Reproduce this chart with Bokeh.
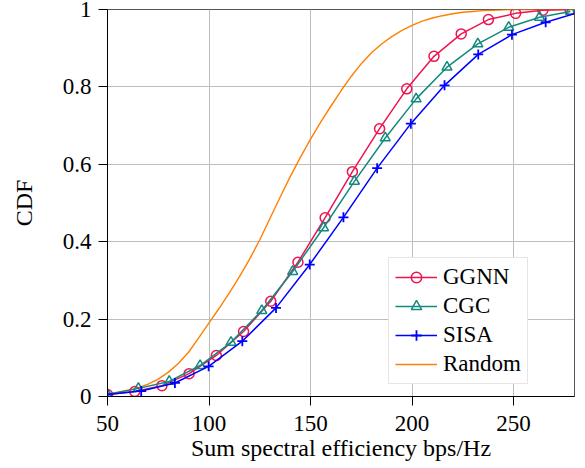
from bokeh.plotting import figure
from bokeh.models import Range1d, FixedTicker, CustomJSTickFormatter, Legend, LegendItem
from bokeh.embed import file_html
from bokeh.resources import INLINE

# ---- data ----
ggnn_x = [50, 63.4, 76.8, 90.2, 103.6, 117.0, 130.4, 143.8, 157.2, 170.6, 184.0, 197.4, 210.8, 224.2, 237.6, 251.0, 264.4, 277.8]
ggnn_y = [0.005, 0.013, 0.028, 0.059, 0.106, 0.168, 0.246, 0.347, 0.462, 0.581, 0.692, 0.795, 0.879, 0.937, 0.974, 0.990, 0.998, 1.0]

cgc_x = [50, 65.2, 80.4, 95.6, 110.8, 126.0, 141.2, 156.4, 171.6, 186.8, 202.0, 217.2, 232.4, 247.6, 262.8, 278.0]
cgc_y = [0.005, 0.021, 0.039, 0.080, 0.140, 0.222, 0.323, 0.436, 0.556, 0.668, 0.769, 0.851, 0.911, 0.954, 0.980, 0.995]

sisa_x = [50, 66.6, 83.2, 99.8, 116.4, 133.0, 149.6, 166.2, 182.8, 199.4, 216.0, 232.6, 249.2, 265.8, 282.4]
sisa_y = [0.005, 0.014, 0.035, 0.078, 0.143, 0.229, 0.341, 0.463, 0.590, 0.705, 0.804, 0.884, 0.935, 0.967, 0.993]

rand_x = [50, 55, 60, 65, 70, 75, 80, 85, 90, 95, 100, 105, 110, 115, 120, 125, 130, 135, 140, 145,
          150, 155, 160, 165, 170, 175, 180, 185, 190, 195, 200, 205, 210, 215, 220, 225, 230, 235,
          240, 245, 250, 260, 270, 280]
rand_y = [0.007, 0.011, 0.016, 0.022, 0.032, 0.045, 0.063, 0.086, 0.115, 0.152, 0.190, 0.228, 0.268, 0.310,
          0.355, 0.405, 0.460, 0.515, 0.568, 0.618, 0.665, 0.709, 0.750, 0.790, 0.827, 0.860, 0.888,
          0.911, 0.930, 0.946, 0.959, 0.970, 0.978, 0.984, 0.989, 0.993, 0.995, 0.997, 0.998, 0.999,
          1.0, 1.0, 1.0, 1.0]

x_ticks = [50, 100, 150, 200, 250]
y_ticks = [0, 0.2, 0.4, 0.6, 0.8, 1.0]

FONT = "Liberation Serif"
FS_TICK = "23px"
FS_LABEL = "24px"
FS_LEG = "23px"

C_GGNN = "#EE1450"
C_CGC = "#138A80"
C_SISA = "#0000FF"
C_RAND = "#FF8000"

p = figure(width=577, height=464, output_backend="svg", toolbar_location=None,
           x_range=Range1d(50, 280), y_range=Range1d(0, 1),
           min_border_left=107, min_border_right=3, min_border_top=9, min_border_bottom=68)
p.background_fill_color = "white"
p.border_fill_color = "white"
p.outline_line_color = "#555555"
p.outline_line_width = 1

# grid
for g in (p.xgrid, p.ygrid):
    g.grid_line_color = "#BDBDBD"
    g.grid_line_width = 1
p.xgrid.ticker = FixedTicker(ticks=x_ticks)
p.ygrid.ticker = FixedTicker(ticks=y_ticks)

# axes
p.xaxis.ticker = FixedTicker(ticks=x_ticks)
p.yaxis.ticker = FixedTicker(ticks=y_ticks)
p.yaxis.formatter = CustomJSTickFormatter(code="return tick.toFixed(1).replace(/\\.0$/, '')")
for ax in (p.xaxis, p.yaxis):
    ax.axis_line_color = "black"
    ax.axis_line_width = 1
    ax.major_tick_line_color = "black"
    ax.major_tick_out = 9
    ax.major_tick_in = 0
    ax.minor_tick_line_color = None
    ax.major_label_text_font = FONT
    ax.major_label_text_font_size = FS_TICK
    ax.major_label_text_color = "black"
    ax.axis_label_text_font = FONT
    ax.axis_label_text_font_size = FS_LABEL
    ax.axis_label_text_font_style = "normal"
    ax.axis_label_text_color = "black"
p.xaxis.major_label_standoff = 10
p.yaxis.major_label_standoff = 7
p.xaxis.axis_label = "Sum spectral efficiency bps/Hz"
p.yaxis.axis_label = "CDF"
p.xaxis.axis_label_standoff = 1
p.yaxis.axis_label_standoff = 23

# series
r_rand = p.line(rand_x, rand_y, line_color=C_RAND, line_width=1.4)

l_ggnn = p.line(ggnn_x, ggnn_y, line_color=C_GGNN, line_width=1.5)
m_ggnn = p.scatter(ggnn_x, ggnn_y, marker="circle", size=10, fill_color=None,
                   line_color=C_GGNN, line_width=1.5)

l_cgc = p.line(cgc_x, cgc_y, line_color=C_CGC, line_width=1.5)
m_cgc = p.scatter(cgc_x, cgc_y, marker="triangle", size=10, fill_color=None,
                  line_color=C_CGC, line_width=1.5)

l_sisa = p.line(sisa_x, sisa_y, line_color=C_SISA, line_width=1.5)
m_sisa = p.scatter(sisa_x, sisa_y, marker="cross", size=10,
                   line_color=C_SISA, line_width=1.8)

legend = Legend(items=[
    LegendItem(label="GGNN", renderers=[l_ggnn, m_ggnn]),
    LegendItem(label="CGC", renderers=[l_cgc, m_cgc]),
    LegendItem(label="SISA", renderers=[l_sisa, m_sisa]),
    LegendItem(label="Random", renderers=[r_rand]),
], location=(281, 12))
legend.label_text_font = FONT
legend.label_text_font_size = FS_LEG
legend.label_text_color = "black"
legend.border_line_color = "#CCCCCC"
legend.border_line_width = 1
legend.background_fill_color = "white"
legend.background_fill_alpha = 1.0
legend.glyph_width = 42
legend.glyph_height = 26
legend.label_height = 26
legend.label_standoff = 6
legend.padding = 6
legend.spacing = 3
legend.margin = 0
p.add_layout(legend)

open("out.html", "w").write(file_html(p, INLINE))
